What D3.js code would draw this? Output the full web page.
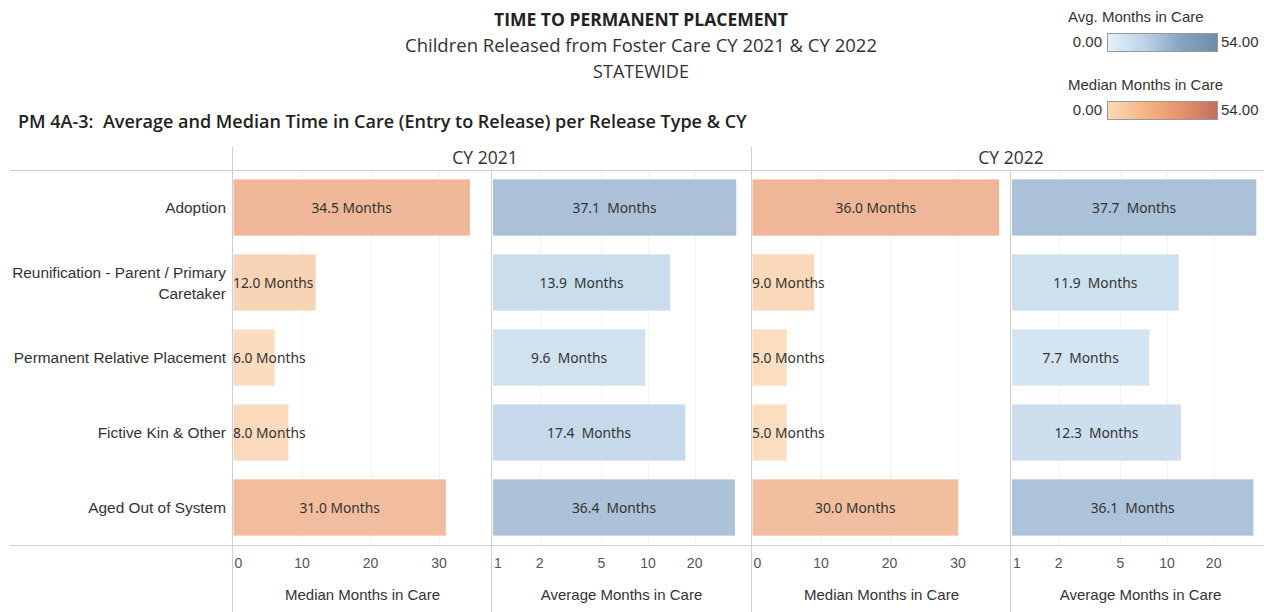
<!DOCTYPE html>
<html>
<head>
<meta charset="utf-8">
<script src="https://cdnjs.cloudflare.com/ajax/libs/d3/7.8.5/d3.min.js"></script>
<style>
    body { margin: 0; background: #fff; }
    text { white-space: pre; }
    .rowLabel { font-family: "Liberation Sans", Arial, sans-serif; font-size: 15.4px; fill: #333; }
    .tickLabel { font-family: "Liberation Sans", Arial, sans-serif; font-size: 14px; fill: #555; }
    .axisTitle { font-family: "Liberation Sans", Arial, sans-serif; font-size: 15px; fill: #333; }
    .barLabel { font-family: "Noto Sans", sans-serif; font-size: 13.8px; fill: #333; }
    .head { font-family: "Open Sans", sans-serif; fill: #222; }
    .legendText { font-family: "Liberation Sans", Arial, sans-serif; font-size: 15px; fill: #333; }
</style>
</head>
<body>
<script>
(function(){

    //data
    var categories = ["Adoption", "Reunification - Parent / Primary Caretaker", "Permanent Relative Placement", "Fictive Kin & Other", "Aged Out of System"];
    var years = ["CY 2021", "CY 2022"];
    var median2021 = [34.5, 12.0, 6.0, 8.0, 31.0];
    var average2021 = [37.1, 13.9, 9.6, 17.4, 36.4];
    var median2022 = [36.0, 9.0, 5.0, 5.0, 30.0];
    var average2022 = [37.7, 11.9, 7.7, 12.3, 36.1];
    var medianTicks = [0, 10, 20, 30];
    var averageTicks = [1, 2, 5, 10, 20];
    var colorDomain = [0, 54];

    window.onload = setChart();

    function setChart(){
        var width = 1264, height = 612;

        var svg = d3.select("body")
            .append("svg")
            .attr("width", width)
            .attr("height", height);

        //titles
        svg.append("text").attr("class", "head")
            .attr("x", 641).attr("y", 26)
            .attr("text-anchor", "middle")
            .style("font-size", "17.5px").style("font-weight", "bold")
            .text("TIME TO PERMANENT PLACEMENT");
        svg.append("text").attr("class", "head")
            .attr("x", 641).attr("y", 52)
            .attr("text-anchor", "middle")
            .style("font-size", "18.5px").style("fill", "#333")
            .text("Children Released from Foster Care CY 2021 & CY 2022");
        svg.append("text").attr("class", "head")
            .attr("x", 641).attr("y", 78)
            .attr("text-anchor", "middle")
            .style("font-size", "18px").style("fill", "#333")
            .text("STATEWIDE");
        svg.append("text").attr("class", "head")
            .attr("x", 18).attr("y", 128)
            .style("font-size", "18px").style("font-weight", "600")
            .text("PM 4A-3:  Average and Median Time in Care (Entry to Release) per Release Type & CY");

        //colour scales
        var medianColor = d3.scaleLinear().domain(colorDomain).range(["#fde3c6", "#e8a080"]);
        var averageColor = d3.scaleLinear().domain(colorDomain).range(["#ddeef9", "#95adc9"]);

        //legends
        makeLegend(svg, "Avg. Months in Care", 17, ["#e6f1fa", "#bdd3e8", "#86a3c2", "#6f8cab"], "avgGrad");
        makeLegend(svg, "Median Months in Care", 85, ["#fcdcb6", "#f3b586", "#e6936c", "#bf705e"], "medGrad");

        //row band scale
        var top = 170, bottom = 545;
        var y = d3.scaleBand()
            .domain(categories)
            .range([top, bottom])
            .paddingInner(0.25)
            .paddingOuter(0.125);

        //panels: median linear, average log
        var panels = [
            { year: years[0], kind: "median", values: median2021, x0: 233, x1: 492 },
            { year: years[0], kind: "average", values: average2021, x0: 492, x1: 752 },
            { year: years[1], kind: "median", values: median2022, x0: 752, x1: 1011 },
            { year: years[1], kind: "average", values: average2022, x0: 1011, x1: 1264 }
        ];

        panels.forEach(function(p){
            var x;
            if (p.kind == "median"){
                x = d3.scaleLinear().domain([0, 37.8]).range([p.x0 + 0.5, p.x0 + 259.5]);
            } else {
                x = d3.scaleLog().domain([1, 46.9]).range([p.x0 + 1, p.x0 + 260]);
            }
            var ticks = p.kind == "median" ? medianTicks : averageTicks;
            var color = p.kind == "median" ? medianColor : averageColor;
            var g = svg.append("g").attr("class", "panel");

            //faint gridlines
            g.selectAll(".grid")
                .data(ticks.slice(1))
                .enter()
                .append("line")
                .attr("x1", function(d){ return Math.round(x(d)) + 0.5; })
                .attr("x2", function(d){ return Math.round(x(d)) + 0.5; })
                .attr("y1", top).attr("y2", bottom)
                .attr("stroke", "#f3f3f3");

            //bars
            var base = x.domain()[0];
            g.selectAll(".bar")
                .data(p.values)
                .enter()
                .append("rect")
                .attr("class", "bar")
                .attr("x", x(base))
                .attr("y", function(d, i){ return y(categories[i]); })
                .attr("width", function(d){ return x(d) - x(base); })
                .attr("height", y.bandwidth())
                .style("fill", function(d){ return color(d); });

            //bar labels
            g.selectAll(".barLabel")
                .data(p.values)
                .enter()
                .append("text")
                .attr("class", "barLabel")
                .attr("y", function(d, i){ return y(categories[i]) + y.bandwidth() / 2 + 5; })
                .text(function(d){ return d.toFixed(1) + (p.kind == "median" ? " Months" : "  Months"); })
                .each(function(d){
                    var t = d3.select(this);
                    var w = this.getComputedTextLength();
                    var barW = x(d) - x(base);
                    if (w + 4 > barW){
                        t.attr("x", x(base) - 0.5).attr("text-anchor", "start");
                    } else {
                        t.attr("x", x(base) + barW / 2).attr("text-anchor", "middle");
                    }
                });

            //axis tick labels
            g.selectAll(".tickLabel")
                .data(ticks)
                .enter()
                .append("text")
                .attr("class", "tickLabel")
                .attr("x", function(d, i){ return i == 0 ? x(d) + 1 : x(d); })
                .attr("y", 568)
                .attr("text-anchor", function(d, i){ return i == 0 ? "start" : "middle"; })
                .text(function(d){ return d; });

            //axis title
            g.append("text")
                .attr("class", "axisTitle")
                .attr("x", (p.x0 + (p.kind == "median" ? p.x1 : p.x0 + 259)) / 2)
                .attr("y", 600)
                .attr("text-anchor", "middle")
                .text(p.kind == "median" ? "Median Months in Care" : "Average Months in Care");
        });

        //year headers
        svg.selectAll(".yearHeader")
            .data(years)
            .enter()
            .append("text")
            .attr("class", "head")
            .attr("x", function(d, i){ return i == 0 ? 485 : 1011; })
            .attr("y", 164)
            .attr("text-anchor", "middle")
            .style("font-size", "17.5px").style("fill", "#333")
            .text(function(d){ return d; });

        //row labels, wrapping the long one
        svg.selectAll(".rowLabel")
            .data(categories)
            .enter()
            .append("text")
            .attr("class", "rowLabel")
            .attr("x", 226)
            .attr("text-anchor", "end")
            .each(function(d){
                var t = d3.select(this);
                var cy = y(d) + y.bandwidth() / 2;
                if (d.length > 30){
                    var cut = d.lastIndexOf(" ");
                    t.append("tspan").attr("x", 226).attr("y", cy - 5).text(d.slice(0, cut));
                    t.append("tspan").attr("x", 226).attr("y", cy + 16).text(d.slice(cut + 1));
                } else {
                    t.attr("y", cy + 5).text(d);
                }
            });

        //frame lines
        [top, bottom].forEach(function(yy){
            svg.append("line")
                .attr("x1", 10).attr("x2", width)
                .attr("y1", yy + 0.5).attr("y2", yy + 0.5)
                .attr("stroke", "#cfcfcf");
        });
        [233, 492, 752, 1011].forEach(function(xx, i){
            svg.append("line")
                .attr("x1", xx - 0.5).attr("x2", xx - 0.5)
                .attr("y1", (i % 2 == 0) ? 147 : top).attr("y2", height)
                .attr("stroke", "#cfcfcf");
        });
    };

    //gradient legend box with min and max labels
    function makeLegend(svg, title, ty, stops, id){
        var defs = svg.append("defs");
        var grad = defs.append("linearGradient").attr("id", id);
        stops.forEach(function(c, i){
            grad.append("stop")
                .attr("offset", (i / (stops.length - 1) * 100) + "%")
                .attr("stop-color", c);
        });
        svg.append("text").attr("class", "legendText")
            .attr("x", 1068).attr("y", ty + 5)
            .text(title);
        svg.append("rect")
            .attr("x", 1107.5).attr("y", ty + 16.5)
            .attr("width", 110).attr("height", 18)
            .attr("fill", "url(#" + id + ")")
            .attr("stroke", "#999");
        svg.append("text").attr("class", "legendText")
            .attr("x", 1102).attr("y", ty + 30)
            .attr("text-anchor", "end")
            .text(d3.format(".2f")(colorDomain[0]));
        svg.append("text").attr("class", "legendText")
            .attr("x", 1221).attr("y", ty + 30)
            .text(d3.format(".2f")(colorDomain[1]));
    };

})();
</script>
</body>
</html>
